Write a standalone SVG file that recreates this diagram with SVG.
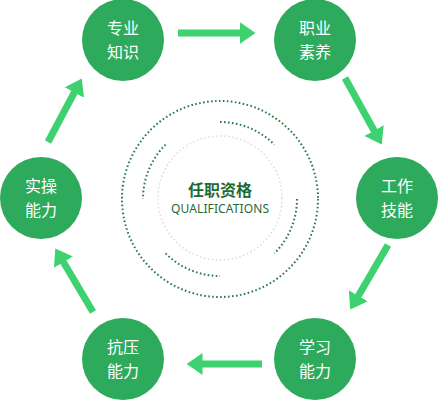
<svg xmlns="http://www.w3.org/2000/svg" width="438" height="400" viewBox="0 0 438 400">
<style>
.node{fill:#2eaa5c}
.nt{fill:#ffffff;font-family:"Noto Sans CJK SC","Noto Sans",sans-serif;font-size:16px;text-anchor:middle}
.arr{stroke:#3dd170;stroke-width:7;fill:none}
.ring{fill:none;stroke:#2a7a46;stroke-width:2;stroke-dasharray:1.6 2.4}
</style>
<defs>
<marker id="ah" viewBox="0 0 16 22" markerWidth="16" markerHeight="22" refX="0.5" refY="11" orient="auto" markerUnits="userSpaceOnUse">
<path d="M0,0 L16,11 L0,22 Z" fill="#3dd170"/>
</marker>
</defs>
<rect width="438" height="400" fill="#ffffff"/>
<g id="center">
<circle cx="220" cy="199" r="98" class="ring"/>
<circle cx="220" cy="198" r="62" fill="none" stroke="#dedede" stroke-width="1.6" stroke-dasharray="1.6 2.4"/>
<path class="ring" d="M220,122 A77,77 0 0 1 274.4,144.6"/>
<path class="ring" d="M165.6,144.6 A77,77 0 0 0 143,199"/>
<path class="ring" d="M297,199 A77,77 0 0 1 274.4,253.4"/>
<path class="ring" d="M165.6,253.4 A77,77 0 0 0 220,276"/>
<text x="220" y="196" text-anchor="middle" font-family="Noto Sans CJK SC,sans-serif" font-size="16" font-weight="bold" fill="#1f6b38">任职资格</text>
<text x="220" y="213" text-anchor="middle" font-family="Noto Sans,sans-serif" font-size="12" fill="#1f6b38" textLength="98">QUALIFICATIONS</text>
</g>
<g id="connectors">
<line class="arr" x1="178" y1="33" x2="240" y2="33" marker-end="url(#ah)"/>
<line class="arr" x1="345" y1="78" x2="374.3" y2="131" marker-end="url(#ah)"/>
<line class="arr" x1="388" y1="245" x2="358.1" y2="296.2" marker-end="url(#ah)"/>
<line class="arr" x1="262" y1="364" x2="202" y2="364" marker-end="url(#ah)"/>
<line class="arr" x1="93" y1="312" x2="63.2" y2="261.8" marker-end="url(#ah)"/>
<line class="arr" x1="48" y1="142" x2="74.5" y2="92.1" marker-end="url(#ah)"/>
</g>
<g id="n1"><circle class="node" cx="123" cy="40" r="41"/><text class="nt" x="123" y="34">专业</text><text class="nt" x="123" y="58">知识</text></g>
<g id="n2"><circle class="node" cx="315" cy="40" r="41"/><text class="nt" x="315" y="34">职业</text><text class="nt" x="315" y="58">素养</text></g>
<g id="n3"><circle class="node" cx="397" cy="198" r="41"/><text class="nt" x="397" y="192">工作</text><text class="nt" x="397" y="216">技能</text></g>
<g id="n4"><circle class="node" cx="315" cy="359" r="41"/><text class="nt" x="315" y="353">学习</text><text class="nt" x="315" y="377">能力</text></g>
<g id="n5"><circle class="node" cx="123" cy="359" r="41"/><text class="nt" x="123" y="353">抗压</text><text class="nt" x="123" y="377">能力</text></g>
<g id="n6"><circle class="node" cx="41" cy="198" r="41"/><text class="nt" x="41" y="192">实操</text><text class="nt" x="41" y="216">能力</text></g>
</svg>
